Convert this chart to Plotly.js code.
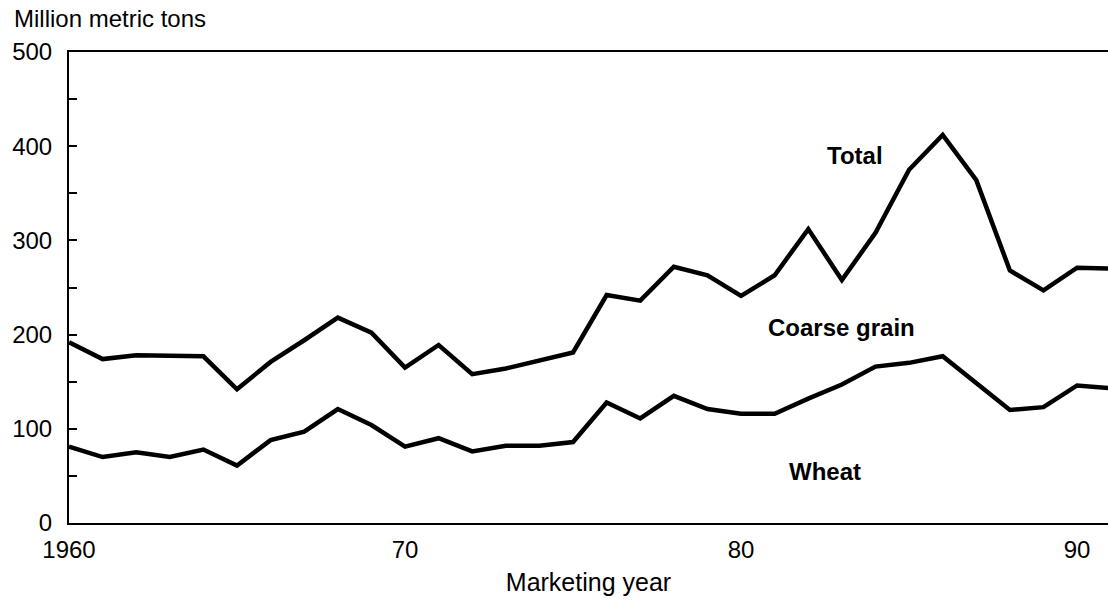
<!DOCTYPE html>
<html>
<head>
<meta charset="utf-8">
<script src="https://cdn.plot.ly/plotly-3.0.1.min.js"></script>
<style>
  html, body { margin: 0; padding: 0; background: #fff; }
  #chart { width: 1108px; height: 601px; }
</style>
</head>
<body>
<div id="chart"></div>
<script>
// Marketing years
const years = [1960,1961,1962,1963,1964,1965,1966,1967,1968,1969,
               1970,1971,1972,1973,1974,1975,1976,1977,1978,1979,
               1980,1981,1982,1983,1984,1985,1986,1987,1988,1989,
               1990,1991];
// Total (wheat + coarse grain), million metric tons
const total = [192,174,178,177,177,142,171,194,218,202,
               165,189,158,164,173,181,242,236,272,263,
               241,263,312,258,308,375,412,364,268,247,
               271,270];
// Wheat, million metric tons
const wheat = [81,70,75,70,78,61,88,97,121,104,
               81,90,76,82,82,86,128,111,135,121,
               116,116,132,147,166,170,177,148,120,123,
               146,143];
// Series labels placed on the chart
const labels = [
  {text: "Total",        x: 1983.4, y: 390},
  {text: "Coarse grain", x: 1983.0, y: 208},
  {text: "Wheat",        x: 1982.5, y: 55}
];
const yTickVals = [0,100,200,300,400,500];
const xTickVals = [1960,1970,1980,1990];
const xTickText = ["1960","70","80","90"];

const font = "Liberation Sans, Arial, Helvetica, sans-serif";

const traces = [
  {x: years, y: total, name: "Total", mode: "lines",
   line: {color: "#000", width: 4.5}, hoverinfo: "x+y+name"},
  {x: years, y: wheat, name: "Wheat", mode: "lines",
   line: {color: "#000", width: 4.5}, hoverinfo: "x+y+name"}
];

const annotations = labels.map(l => ({
  text: "<b>" + l.text + "</b>", x: l.x, y: l.y, xref: "x", yref: "y",
  showarrow: false, font: {family: font, size: 24, color: "#000"}
}));
annotations.push({
  text: "Million metric tons", xref: "paper", yref: "paper",
  x: -0.055, y: 1.0, xanchor: "left", yanchor: "bottom", yshift: 18,
  showarrow: false, font: {family: font, size: 24, color: "#000"}
});

const layout = {
  width: 1108, height: 601,
  margin: {l: 69, r: 0, t: 52, b: 78, pad: 0},
  paper_bgcolor: "#fff", plot_bgcolor: "#fff",
  showlegend: false,
  font: {family: font, size: 24, color: "#000"},
  xaxis: {
    range: [1960, 1990.92], tickvals: xTickVals, ticktext: xTickText,
    showgrid: false, zeroline: false, showline: true, linecolor: "#000",
    linewidth: 2, mirror: true, ticks: "", ticklabelstandoff: 4,
    tickfont: {family: font, size: 24, color: "#000"},
    title: {text: "Marketing year", font: {family: font, size: 25, color: "#000"}, standoff: 12}
  },
  yaxis: {
    range: [0, 500], tickvals: yTickVals,
    showgrid: false, zeroline: false, showline: true, linecolor: "#000",
    linewidth: 2, ticks: "inside", ticklen: 8, tickcolor: "#000", tickwidth: 1.5,
    minor: {dtick: 50, ticks: "inside", ticklen: 8, tickcolor: "#000", tickwidth: 1.5},
    ticklabelstandoff: 10,
    tickfont: {family: font, size: 24, color: "#000"}
  },
  annotations: annotations
};

Plotly.newPlot("chart", traces, layout, {displayModeBar: false, staticPlot: false});
</script>
</body>
</html>
